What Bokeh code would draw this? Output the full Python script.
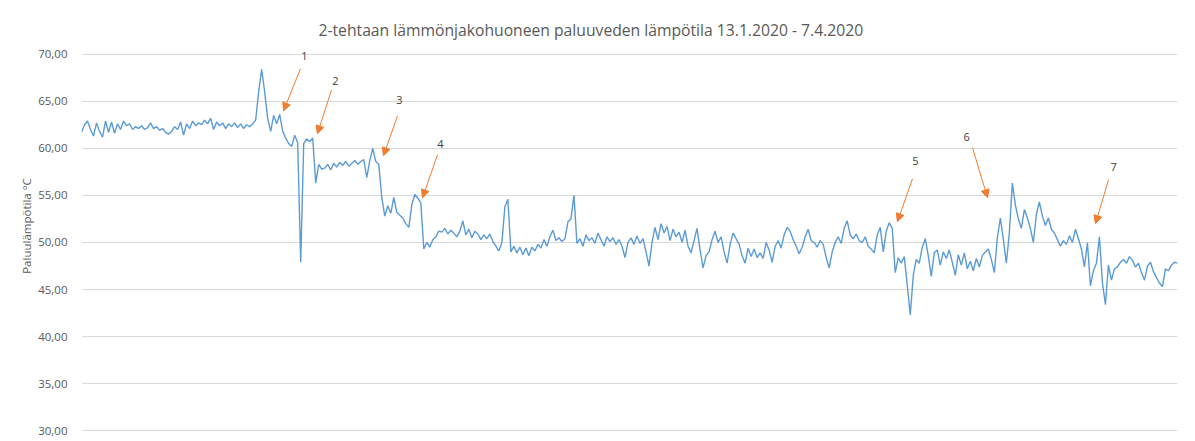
import pandas as pd
from bokeh.plotting import figure
from bokeh.models import (Range1d, ColumnDataSource, CustomJSTickFormatter, FixedTicker,
                          Arrow, NormalHead, Label)
from bokeh.embed import file_html
from bokeh.resources import INLINE

title_text = "2-tehtaan lämmönjakohuoneen paluuveden lämpötila 13.1.2020 - 7.4.2020"
y_label = "Paluulämpötila °C"
start_date = "2020-01-13"
end_date = "2020-04-07"
y_ticks = [30, 35, 40, 45, 50, 55, 60, 65, 70]

# return water temperature (°C), evenly spaced samples over the period
temps_jan = [
    61.7, 62.5, 62.9, 62.0, 61.3, 62.7, 61.8, 61.2, 62.9, 61.7, 62.8, 61.6, 62.6, 62.0, 62.9, 62.4, 62.6, 62.0, 62.3, 62.1,
    62.4, 62.0, 62.2, 62.7, 62.1, 62.3, 61.9, 62.1, 61.7, 61.5, 61.8, 62.3, 62.0, 62.8, 61.4, 62.6, 62.1, 62.9, 62.4, 62.7,
    62.5, 63.0, 62.6, 63.2, 62.0, 62.8, 62.4, 62.7, 62.1, 62.6, 62.3, 62.7, 62.2, 62.6, 62.1, 62.5, 62.3, 62.6, 63.0, 66.0,
    68.4, 66.0, 63.2, 61.8, 63.5, 62.6, 63.6, 61.8, 61.1, 60.5, 60.2, 61.4, 60.6, 47.9, 60.5, 61.0, 60.7, 61.1, 56.3, 58.3,
    57.8, 57.9, 58.3, 57.7, 58.4, 58.0, 58.5, 58.2, 58.6, 58.1, 58.4, 58.7, 58.3, 58.6, 58.8, 56.9, 58.7, 60.0, 58.6, 58.3,
]
temps_feb = [
    54.8, 52.8, 53.9, 53.1, 54.8, 53.2, 52.9, 52.6, 52.0, 51.6, 54.0, 55.1, 54.7, 54.2, 49.3, 50.0, 49.5, 50.3, 50.6, 51.2,
    51.1, 51.5, 50.9, 51.3, 51.0, 50.6, 51.2, 52.3, 50.8, 51.4, 50.5, 51.2, 50.9, 50.3, 50.8, 50.4, 50.9, 50.1, 49.6, 49.1,
    50.0, 53.8, 54.6, 49.0, 49.6, 48.9, 49.5, 48.7, 49.4, 48.6, 49.5, 49.1, 49.8, 49.4, 50.3, 49.6, 50.6, 51.3, 50.2, 50.5,
    50.1, 50.4, 52.2, 52.5, 55.0, 49.9, 50.4, 49.6, 50.8, 50.2, 50.5, 49.9, 51.0, 50.3, 49.6, 50.6, 50.1, 50.5, 49.8, 50.3,
    49.6, 48.4, 50.0, 50.5, 49.8, 50.7, 49.9, 50.4, 49.0, 47.5, 50.0, 51.6, 50.3, 52.0, 51.0, 51.7, 50.2, 51.4, 50.6, 51.1,
]
temps_mar = [
    50.0, 51.3, 49.6, 48.9, 50.2, 51.5, 49.2, 47.3, 48.6, 49.0, 50.3, 51.2, 50.0, 50.6, 49.0, 47.8, 49.8, 51.0, 50.4, 49.8,
    48.6, 47.8, 49.4, 48.5, 49.3, 48.4, 48.9, 48.3, 50.0, 49.2, 47.9, 49.6, 50.2, 49.4, 50.8, 51.6, 51.2, 50.3, 49.6, 48.8,
    49.5, 50.6, 51.4, 50.2, 50.0, 49.5, 50.2, 49.8, 48.4, 47.3, 49.0, 50.0, 50.6, 49.9, 51.5, 52.3, 50.8, 50.4, 50.9, 50.2,
    50.0, 50.6, 49.6, 49.3, 48.9, 50.8, 51.6, 49.0, 51.2, 52.1, 51.5, 46.8, 48.4, 47.8, 48.5, 45.5, 42.3, 46.5, 48.2, 47.8,
    49.5, 50.4, 48.6, 46.4, 48.9, 49.2, 47.6, 49.0, 48.3, 49.2, 47.9, 46.5, 48.7, 47.6, 48.9, 47.2, 48.0, 47.0, 48.3, 47.4,
]
temps_apr = [
    48.6, 49.0, 49.3, 48.2, 46.8, 50.5, 52.6, 50.3, 47.8, 51.0, 56.3, 54.0, 52.5, 51.5, 53.5, 52.6, 51.5, 50.0, 53.0, 54.3,
    52.8, 51.8, 52.6, 51.4, 51.0, 50.3, 49.6, 50.2, 49.8, 50.7, 50.0, 51.4, 50.4, 49.3, 47.4, 50.0, 45.4, 47.0, 47.8, 50.6,
    45.7, 43.4, 47.6, 46.0, 47.2, 47.4, 47.9, 48.2, 47.8, 48.5, 48.1, 47.4, 47.8, 46.8, 46.0, 47.5, 47.9, 46.9, 46.3, 45.7,
    45.3, 47.2, 47.0, 47.6, 47.9, 47.8,
]
temps = temps_jan + temps_feb + temps_mar + temps_apr

# numbered event markers: label, text position and arrow (day offset from start, °C)
event_labels = ["1", "2", "3", "4", "5", "6", "7"]
event_label_day = [17.29, 19.70, 24.66, 27.84, 64.68, 68.64, 80.04]
event_label_val = [69.82, 67.17, 65.15, 60.48, 58.68, 61.22, 58.04]
event_tail_day = [16.98, 19.39, 24.51, 27.61, 64.45, 69.10, 79.65]
event_tail_val = [68.44, 66.21, 63.45, 59.32, 56.77, 60.06, 56.66]
event_head_day = [15.67, 18.30, 23.42, 26.45, 63.28, 70.27, 78.64]
event_head_val = [63.98, 61.54, 59.21, 54.75, 52.21, 54.75, 52.00]

t0 = pd.Timestamp(start_date)
t1 = pd.Timestamp(end_date)
times = pd.date_range(t0, t1, periods=len(temps))
src = ColumnDataSource(dict(t=times, v=temps))


def day_ms(d):
    return (t0 + pd.Timedelta(days=d)).value / 1e6


p = figure(width=1187, height=438, x_axis_type="datetime",
           x_range=Range1d(t0, t1), y_range=Range1d(29.5, 74),
           output_backend="svg", toolbar_location=None,
           min_border_left=81, min_border_right=10, min_border_top=16, min_border_bottom=3)

p.outline_line_color = None
p.xaxis.visible = False
p.xgrid.visible = False
p.ygrid.grid_line_color = "#D9D9D9"
p.ygrid.grid_line_width = 1

ya = p.yaxis[0]
ya.ticker = FixedTicker(ticks=y_ticks)
ya.formatter = CustomJSTickFormatter(code="return tick.toFixed(2).replace('.', ',');")
ya.axis_line_color = None
ya.major_tick_line_color = None
ya.minor_tick_line_color = None
ya.major_label_standoff = 8
ya.major_label_text_font = "Open Sans"
ya.major_label_text_font_size = "11.5px"
ya.major_label_text_color = "#595959"
ya.axis_label = y_label
ya.axis_label_text_font = "Open Sans"
ya.axis_label_text_font_size = "11.5px"
ya.axis_label_text_font_style = "normal"
ya.axis_label_text_color = "#595959"
ya.axis_label_standoff = 1

p.line(x="t", y="v", source=src, line_color="#5B9BD5", line_width=1.4)

# chart title, centred over the plot
p.add_layout(Label(x=day_ms(39.5), y=72.55, text=title_text, text_align="center",
                   text_baseline="middle", text_font="Open Sans",
                   text_font_size="15.7px", text_color="#595959"))

orange = "#ED7D31"
for lab, lx, lv, tx, tv, hx, hv in zip(event_labels, event_label_day, event_label_val,
                                       event_tail_day, event_tail_val,
                                       event_head_day, event_head_val):
    p.add_layout(Arrow(x_start=day_ms(tx), y_start=tv, x_end=day_ms(hx), y_end=hv,
                       line_color=orange, line_width=1,
                       end=NormalHead(size=8, fill_color=orange, line_color=orange)))
    p.add_layout(Label(x=day_ms(lx), y=lv, text=lab, text_align="center",
                       text_baseline="middle", text_font="Open Sans",
                       text_font_size="11px", text_color="#404040"))

open("out.html", "w").write(file_html(p, INLINE))
